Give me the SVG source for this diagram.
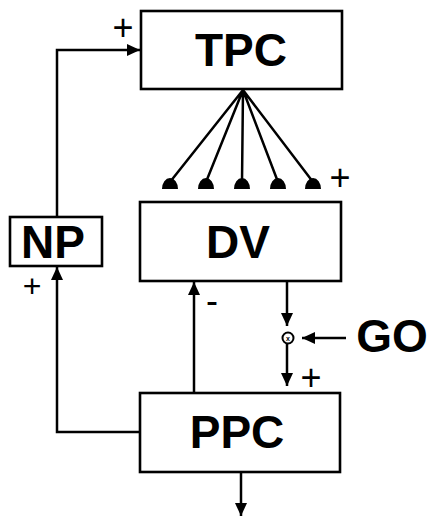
<svg xmlns="http://www.w3.org/2000/svg" width="429" height="516" viewBox="0 0 429 516">
<defs>
<marker id="ah" viewBox="0 0 13 12" refX="13" refY="6" markerWidth="13" markerHeight="12" markerUnits="userSpaceOnUse" orient="auto">
<path d="M0,0 L13,6 L0,12 Z" fill="#000"/>
</marker>
</defs>
<style>
.box{fill:#fff;stroke:#000;stroke-width:2.6}
.lbl{font-family:"Liberation Sans",Arial,sans-serif;font-weight:bold;font-size:46px;text-anchor:middle;fill:#000}
.sign{font-family:"Liberation Sans",Arial,sans-serif;font-size:36px;text-anchor:middle;fill:#000}
.ln{fill:none;stroke:#000;stroke-width:2.5}
</style>
<rect width="429" height="516" fill="#fff"/>
<g id="connectors">
<path class="ln" d="M57,217 V50 H140" marker-end="url(#ah)"/>
<path class="ln" d="M140,432 H57 V267" marker-end="url(#ah)"/>
<path class="ln" d="M194,393 V282" marker-end="url(#ah)"/>
<path class="ln" d="M287,281 V326" marker-end="url(#ah)"/>
<path class="ln" d="M346,338 H302" marker-end="url(#ah)"/>
<path class="ln" d="M287,344 V386" marker-end="url(#ah)"/>
<path class="ln" d="M241,472 V516" marker-end="url(#ah)"/>
<circle cx="288" cy="338" r="5.5" fill="#fff" stroke="#000" stroke-width="2"/>
<text x="288" y="341" font-family="Liberation Sans,Arial,sans-serif" font-size="7" font-weight="bold" text-anchor="middle">x</text>
<g id="fan">
<path class="ln" d="M243,90 L170,182 M243,90 L206,182 M243,90 L242,182 M243,90 L278,182 M243,90 L313,182"/>
<path d="M162,189 A8,11 0 0 1 178,189 Z M198,189 A8,11 0 0 1 214,189 Z M234,189 A8,11 0 0 1 250,189 Z M270,189 A8,11 0 0 1 286,189 Z M305,189 A8,11 0 0 1 321,189 Z" fill="#000"/>
</g>
<text class="sign" x="123" y="40">+</text>
<text class="sign" x="340" y="190">+</text>
<text class="sign" x="32" y="297" style="font-size:32px">+</text>
<text class="sign" x="212" y="313">-</text>
<text class="sign" x="311" y="390">+</text>
</g>
<g id="TPC">
<rect class="box" x="141" y="11" width="201" height="78"/>
<text class="lbl" x="241" y="66">TPC</text>
</g>
<g id="DV">
<rect class="box" x="140" y="202" width="201" height="79"/>
<text class="lbl" x="238" y="258">DV</text>
</g>
<g id="NP">
<rect class="box" x="10" y="217" width="92" height="49"/>
<text class="lbl" x="53" y="258">NP</text>
</g>
<g id="PPC">
<rect class="box" x="140" y="393" width="200" height="79"/>
<text class="lbl" x="237" y="448">PPC</text>
</g>
<g id="GO">
<text class="lbl" x="392" y="352">GO</text>
</g>
</svg>
